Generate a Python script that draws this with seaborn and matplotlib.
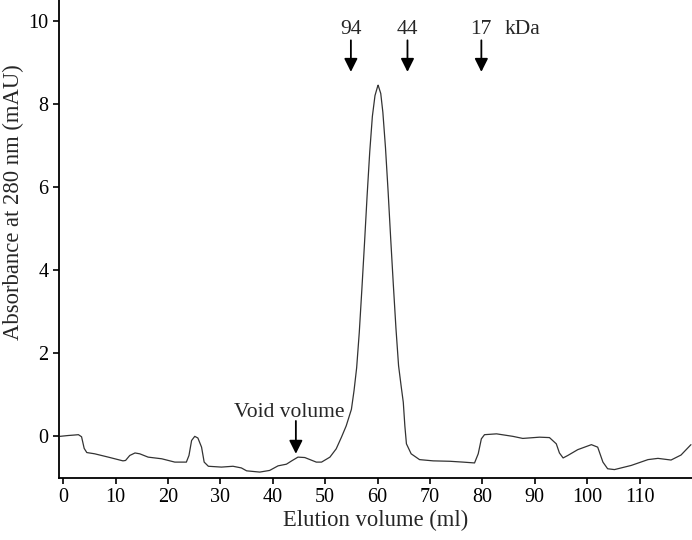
import numpy as np
import pandas as pd
import matplotlib
matplotlib.use('Agg')
import matplotlib.pyplot as plt
import seaborn as sns

# 용출 부피 (ml) / 흡광도 (mAU) - 그림에서 읽은 값
elution_ml = [-0.6, 0.95, 2.0, 2.9, 3.5, 4.0, 4.5, 6.0, 8.6, 11.4, 11.9, 12.7, 13.7, 14.6,
              16.2, 18.8, 21.3, 23.5, 24.0, 24.5, 25.1, 25.7, 26.4, 26.9, 27.7, 30.2, 32.4,
              34.0, 35.0, 37.5, 39.4, 41.0, 42.6, 43.6, 44.8, 46.1, 48.3, 49.3, 50.9, 52.1,
              53.1, 54.0, 55.0, 55.5, 56.0, 56.5, 57.0, 57.5, 58.0, 58.5, 59.0, 59.5, 60.0,
              60.1, 60.6, 61.0, 61.5, 62.0, 62.5, 63.0, 63.5, 64.0, 64.5, 64.9, 65.2, 65.5,
              66.4, 68.0, 70.6, 73.8, 76.3, 78.5, 79.2, 79.8, 80.4, 82.7, 85.8, 87.7, 90.9,
              92.8, 94.1, 94.7, 95.4, 96.3, 98.2, 100.8, 102.0, 103.0, 103.9, 105.2, 108.4,
              111.6, 113.5, 116.0, 117.9, 119.8]
absorbance = [0.0, 0.02, 0.03, 0.04, -0.01, -0.29, -0.39, -0.42, -0.5, -0.59, -0.58, -0.46,
              -0.4, -0.42, -0.5, -0.54, -0.62, -0.62, -0.46, -0.1, 0.0, -0.04, -0.26, -0.62,
              -0.72, -0.74, -0.72, -0.76, -0.83, -0.86, -0.82, -0.71, -0.67, -0.59, -0.5,
              -0.51, -0.62, -0.62, -0.5, -0.3, -0.02, 0.25, 0.65, 1.1, 1.65, 2.5, 3.55, 4.65,
              5.8, 6.85, 7.7, 8.2, 8.42, 8.45, 8.25, 7.8, 6.95, 5.9, 4.75, 3.65, 2.6, 1.7,
              1.2, 0.82, 0.25, -0.18, -0.42, -0.56, -0.59, -0.6, -0.62, -0.64, -0.42, -0.06,
              0.04, 0.06, 0.0, -0.05, -0.02, -0.03, -0.18, -0.4, -0.52, -0.46, -0.32, -0.2,
              -0.26, -0.62, -0.78, -0.8, -0.7, -0.56, -0.53, -0.57, -0.45, -0.2]

# 분자량 마커
marker_labels = ['94', '44', '17']
marker_ml = [54.9, 65.7, 79.8]
void_ml = 44.4

x_ticks = list(range(0, 111, 10))
y_ticks = [0, 2, 4, 6, 8, 10]

df = pd.DataFrame({'ml': elution_ml, 'abs': absorbance})

sns.set_style('ticks')
plt.rcParams['font.family'] = ['Liberation Serif', 'DejaVu Serif']

fig = plt.figure(figsize=(6.92, 5.4), dpi=100)
ax = fig.add_axes([0.0853, 0.115, 0.9147, 0.885])

sns.lineplot(data=df, x='ml', y='abs', ax=ax, color='#333333', linewidth=0.9,
             estimator=None, sort=False)

ax.set_xlim(-0.8, 120)
ax.set_ylim(-1.0, 10.5)
ax.set_xticks(x_ticks)
ax.set_yticks(y_ticks)
ax.tick_params(labelsize=14.5, width=1.2, length=4, color='black', labelcolor='black')
for s in ['left', 'bottom']:
    ax.spines[s].set_linewidth(1.3)
    ax.spines[s].set_color('black')
sns.despine(ax=ax)

ax.set_xlabel('Elution volume (ml)', fontsize=16.3, labelpad=2)
ax.set_ylabel('Absorbance at 280 nm (mAU)', fontsize=16.3)
ax.yaxis.set_label_coords(-0.056, 0.577)

arrow = dict(arrowstyle='-|>', color='black', lw=1.3, mutation_scale=20, shrinkA=0, shrinkB=0)
for lab, mx in zip(marker_labels, marker_ml):
    ax.annotate('', xy=(mx, 8.77), xytext=(mx, 9.53), arrowprops=arrow)
    ax.text(mx, 9.67, lab, ha='center', va='baseline', fontsize=15.5)
ax.text(84.2, 9.67, 'kDa', ha='left', va='baseline', fontsize=15.5)

ax.annotate('', xy=(void_ml, -0.42), xytext=(void_ml, 0.37), arrowprops=arrow)
ax.text(43.2, 0.47, 'Void volume', ha='center', va='baseline', fontsize=15.5)

plt.savefig('out.png', dpi=100)
